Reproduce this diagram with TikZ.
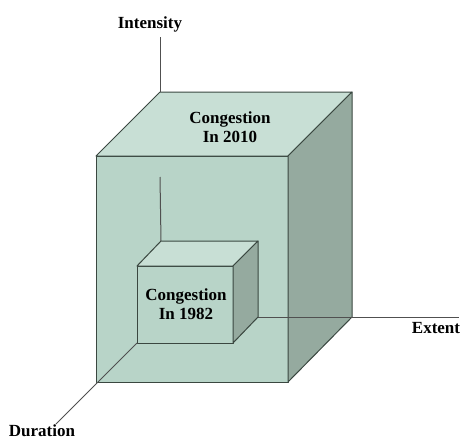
\documentclass[tikz,border=0pt]{standalone}
\usepackage{fontspec}
\setmainfont{Liberation Serif}
\begin{document}
\begin{tikzpicture}[x=1pt,y=-1pt,
  face/.style={draw=edgec,line width=1pt,line join=round},
  axis/.style={draw=axisc,line width=1pt},
  lbl/.style={font=\bfseries\fontsize{17}{18.5}\selectfont,inner sep=0pt,align=center,text=black}]
\definecolor{topc}{HTML}{C8DFD5}
\definecolor{frontc}{HTML}{B8D4C8}
\definecolor{rightc}{HTML}{95AA9F}
\definecolor{edgec}{HTML}{3A4740}
\definecolor{axisc}{HTML}{505050}
\useasboundingbox (0,0) rectangle (461,439);
% big cube corners
\coordinate (Bftl) at (96,156);
\coordinate (Bftr) at (288,156);
\coordinate (Bfbl) at (96,382);
\coordinate (Bfbr) at (288,382);
\coordinate (Bbtl) at (160,92);
\coordinate (Bbtr) at (352,92);
\coordinate (Bbbr) at (352,317);
% big cube faces
\path[face,fill=frontc] (Bftl) -- (Bftr) -- (Bfbr) -- (Bfbl) -- cycle;
\path[face,fill=topc] (Bftl) -- (Bbtl) -- (Bbtr) -- (Bftr) -- cycle;
\path[face,fill=rightc] (Bftr) -- (Bbtr) -- (Bbbr) -- (Bfbr) -- cycle;
% inner cube corners
\coordinate (Sftl) at (137,266);
\coordinate (Sftr) at (233,266);
\coordinate (Sfbl) at (137,343);
\coordinate (Sfbr) at (233,343);
\coordinate (Sbtl) at (161,241);
\coordinate (Sbtr) at (258,241);
\coordinate (Sbbr) at (258,317);
% axis end points
\coordinate (Itop) at (160,37);
\coordinate (Iin) at (160,177);
\coordinate (Eend) at (459,317);
\coordinate (Dend) at (56,424);
% axes
\draw[axis] (Bbtl) -- (Itop);
\draw[axis] (Iin) -- (Sbtl);
\draw[axis] (Sbbr) -- (Eend);
\draw[axis] (Sfbl) -- (Dend);
% inner cube
\path[face,fill=frontc] (Sftl) -- (Sftr) -- (Sfbr) -- (Sfbl) -- cycle;
\path[face,fill=topc] (Sftl) -- (Sbtl) -- (Sbtr) -- (Sftr) -- cycle;
\path[face,fill=rightc] (Sftr) -- (Sbtr) -- (Sbbr) -- (Sfbr) -- cycle;
% labels
\node[lbl] (intensity) at (150,24) {Intensity};
\node[lbl] (extent) at (436,328) {Extent};
\node[lbl,anchor=south] (duration) at (42,437) {Duration};
\node[lbl] (c2010) at (230,127) {Congestion\\In 2010};
\node[lbl] (c1982) at (186,304) {Congestion\\In 1982};
\end{tikzpicture}
\end{document}
